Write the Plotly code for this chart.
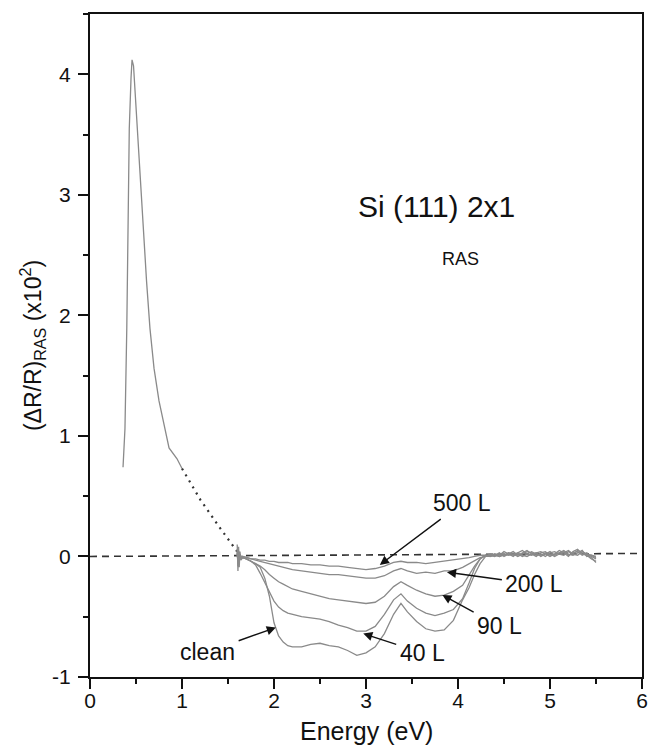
import plotly.graph_objects as go

# ---------------- data ----------------
# low-energy part of the clean spectrum (solid)
LE_x = [0.359, 0.380, 0.400, 0.413, 0.427, 0.446, 0.457, 0.473, 0.490, 0.511, 0.540, 0.576,
        0.615, 0.652, 0.696, 0.750, 0.815, 0.859, 0.946, 1.000]
LE_y = [0.74, 1.06, 1.90, 2.72, 3.55, 3.97, 4.12, 4.07, 3.85, 3.55, 3.15, 2.72,
        2.28, 1.89, 1.56, 1.29, 1.06, 0.90, 0.81, 0.73]

# dotted extrapolation
DOT_x = [1.00, 1.20, 1.40, 1.60]
DOT_y = [0.73, 0.47, 0.25, 0.04]

# dashed zero reference
ZERO_x = [0.0, 6.0]
ZERO_y = [0.0, 0.025]

# shared energy grid for the dosed spectra
E = [1.600, 1.608, 1.615, 1.622, 1.630, 1.640, 1.660,
     1.70, 1.75, 1.80, 1.85, 1.90, 1.95, 2.00, 2.05, 2.10, 2.15, 2.20,
     2.30, 2.40, 2.50, 2.60, 2.70, 2.80, 2.90, 3.00, 3.10, 3.20, 3.30,
     3.38, 3.45, 3.55, 3.65, 3.75, 3.85, 3.95, 4.05, 4.12, 4.18, 4.24, 4.30,
     4.35, 4.40, 4.45, 4.50, 4.55, 4.60, 4.65, 4.70, 4.75, 4.80, 4.85, 4.90,
     4.95, 5.00, 5.05, 5.10, 5.15, 5.20, 5.25, 5.30, 5.35, 5.40, 5.45, 5.50]

clean = [0.10, -0.12, 0.08, -0.09, 0.04, -0.03, -0.01,
         -0.02, -0.04, -0.06, -0.09, -0.18, -0.33, -0.55, -0.66, -0.71, -0.74, -0.75,
         -0.75, -0.73, -0.72, -0.74, -0.75, -0.78, -0.82, -0.80, -0.75, -0.64, -0.48,
         -0.39, -0.46, -0.54, -0.60, -0.62, -0.61, -0.53, -0.36, -0.26, -0.15, -0.06, 0.00,
         0.02, 0.01, 0.03, 0.00, 0.02, 0.04, 0.01, 0.03, 0.05, 0.02, 0.00, 0.03,
         0.04, 0.01, 0.02, 0.05, 0.03, 0.00, 0.04, 0.06, 0.02, 0.01, -0.02, -0.04]

L40 = [0.06, -0.08, 0.05, -0.05, 0.02, -0.02, -0.01,
       -0.02, -0.04, -0.07, -0.14, -0.22, -0.30, -0.37, -0.42, -0.45, -0.47, -0.48,
       -0.50, -0.51, -0.52, -0.54, -0.57, -0.59, -0.62, -0.62, -0.58, -0.48, -0.36,
       -0.31, -0.37, -0.43, -0.47, -0.49, -0.47, -0.44, -0.35, -0.22, -0.10, -0.02, 0.01,
       0.00, 0.02, 0.01, 0.04, 0.02, 0.00, 0.03, 0.05, 0.02, 0.01, 0.03, 0.00,
       0.02, 0.04, 0.01, 0.03, 0.05, 0.02, 0.01, 0.03, 0.05, 0.00, 0.01, -0.01]

L90 = [0.05, -0.06, 0.04, -0.04, 0.02, -0.01, -0.01,
       -0.02, -0.04, -0.06, -0.08, -0.11, -0.15, -0.18, -0.21, -0.23, -0.25, -0.27,
       -0.29, -0.31, -0.33, -0.35, -0.36, -0.37, -0.38, -0.39, -0.38, -0.33, -0.25,
       -0.21, -0.24, -0.28, -0.31, -0.33, -0.32, -0.29, -0.24, -0.15, -0.08, -0.02, 0.01,
       0.01, 0.00, 0.02, 0.01, 0.03, 0.02, 0.00, 0.02, 0.04, 0.03, 0.01, 0.02,
       0.00, 0.03, 0.04, 0.02, 0.01, 0.04, 0.02, 0.05, 0.03, 0.02, -0.01, -0.05]

L200 = [0.03, -0.04, 0.03, -0.02, 0.01, 0.00, 0.00,
        -0.01, -0.02, -0.03, -0.04, -0.05, -0.06, -0.07, -0.08, -0.09, -0.10, -0.11,
        -0.12, -0.13, -0.14, -0.15, -0.15, -0.16, -0.17, -0.18, -0.18, -0.16, -0.12,
        -0.10, -0.12, -0.14, -0.13, -0.14, -0.12, -0.12, -0.09, -0.06, -0.03, -0.01, 0.00,
        0.00, 0.01, 0.00, 0.02, 0.01, 0.02, 0.03, 0.01, 0.00, 0.02, 0.03, 0.04,
        0.02, 0.00, 0.02, 0.03, 0.04, 0.01, 0.03, 0.04, 0.01, 0.03, 0.00, -0.02]

L500 = [0.02, -0.03, 0.02, -0.02, 0.01, 0.00, 0.00,
        -0.01, -0.02, -0.02, -0.03, -0.03, -0.04, -0.04, -0.05, -0.05, -0.05, -0.06,
        -0.06, -0.07, -0.07, -0.08, -0.08, -0.09, -0.10, -0.11, -0.10, -0.08, -0.05,
        -0.04, -0.05, -0.05, -0.06, -0.05, -0.04, -0.03, -0.02, -0.01, 0.00, 0.01, 0.01,
        0.01, 0.02, 0.00, 0.01, 0.03, 0.01, 0.02, 0.00, 0.02, 0.04, 0.02, 0.01,
        0.03, 0.02, 0.00, 0.02, 0.03, 0.05, 0.02, 0.01, 0.04, 0.02, 0.01, 0.00]

X_TICKS = [0, 1, 2, 3, 4, 5, 6]
Y_TICKS = [-1, 0, 1, 2, 3, 4]
Y_TICKTEXT = ["-1", "0", "1", "2", "3", "4"]

# ---------------- figure ----------------
GRAY = "#8a8a8a"
INK = "#111111"
FONT = "Liberation Sans, Arial, sans-serif"

fig = go.Figure()
fig.add_trace(go.Scatter(x=ZERO_x, y=ZERO_y, mode="lines",
                         line=dict(color="#333333", width=1.6, dash="7px,5px"),
                         hoverinfo="skip", showlegend=False))
fig.add_trace(go.Scatter(x=LE_x, y=LE_y, mode="lines",
                         line=dict(color=GRAY, width=1.3), showlegend=False))
fig.add_trace(go.Scatter(x=DOT_x, y=DOT_y, mode="lines",
                         line=dict(color="#333333", width=2.2, dash="2px,5px"), showlegend=False))
for ys in [L500, L200, L90, L40, clean]:
    fig.add_trace(go.Scatter(x=E, y=ys, mode="lines",
                             line=dict(color=GRAY, width=1.3), showlegend=False))

ann_font = dict(family=FONT, size=23, color=INK)
labels = [
    ("500 L", 4.04, 0.44, 3.15, -0.07),
    ("200 L", 4.83, -0.23, 3.88, -0.13),
    ("90 L", 4.45, -0.58, 3.83, -0.32),
    ("40 L", 3.61, -0.80, 2.97, -0.64),
    ("clean", 1.28, -0.79, 2.02, -0.59),
]
for txt, tx, ty, hx, hy in labels:
    fig.add_annotation(x=hx, y=hy, ax=tx, ay=ty, axref="x", ayref="y",
                       xref="x", yref="y", text=txt, showarrow=True,
                       arrowhead=2, arrowsize=1.3, arrowwidth=1.4, arrowcolor=INK,
                       startstandoff=2, font=ann_font)

fig.add_annotation(x=3.77, y=2.90, xref="x", yref="y", text="Si (111) 2x1",
                   showarrow=False, font=dict(family=FONT, size=30, color=INK))
fig.add_annotation(x=4.03, y=2.47, xref="x", yref="y", text="RAS",
                   showarrow=False, font=dict(family=FONT, size=18, color=INK))

# x-axis title placed just under the tick labels
fig.add_annotation(x=0.5, y=0, xref="paper", yref="paper", text="Energy (eV)",
                   showarrow=False, yanchor="middle", yshift=-54,
                   font=dict(family=FONT, size=25, color=INK))

axis_common = dict(showline=True, linewidth=2, linecolor=INK, mirror=True,
                   ticks="outside", ticklen=10, tickwidth=1.6, tickcolor=INK,
                   showgrid=False, zeroline=False,
                   tickfont=dict(family=FONT, size=21, color=INK))
minor_common = dict(dtick=0.5, ticklen=5, tickwidth=1.6, tickcolor=INK, ticks="outside")

fig.update_xaxes(range=[0, 6], tickvals=X_TICKS, **axis_common, minor=minor_common,
                 ticklabelstandoff=-6, automargin=False)
fig.update_yaxes(range=[-1, 4.5], tickvals=Y_TICKS, ticktext=Y_TICKTEXT, **axis_common,
                 minor=minor_common, ticklabelstandoff=3, automargin=False,
                 title=dict(text="(\u0394R/R)<sub>RAS</sub> (x10<sup>2</sup>)",
                            font=dict(family=FONT, size=23, color=INK), standoff=4))

fig.update_layout(width=649, height=746, margin=dict(l=90, r=7, t=14, b=69),
                  plot_bgcolor="white", paper_bgcolor="white", showlegend=False)

# remove the browser's default page margin so the figure sits at the window origin
fig.write_html("out.html", config={"displayModeBar": False},
               post_script="document.body.style.margin='0';")
